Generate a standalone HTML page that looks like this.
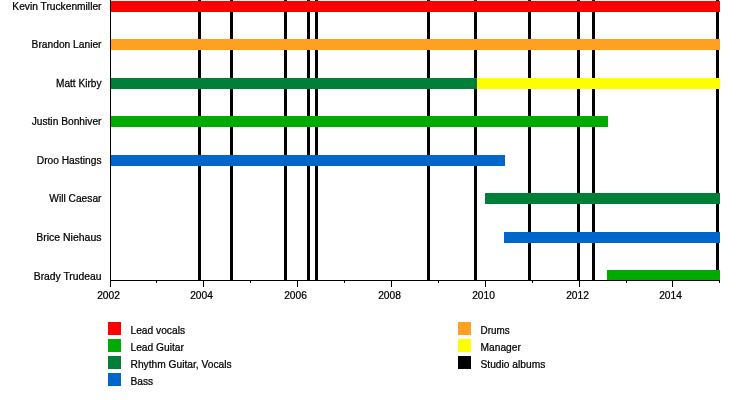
<!DOCTYPE html><html><head><meta charset="utf-8"><style>html,body{margin:0;padding:0;background:#fff;width:750px;height:400px;overflow:hidden}svg{display:block;will-change:transform}text{font-family:"Liberation Sans",sans-serif;fill:#000;stroke:#000;stroke-width:0.25px}</style></head><body>
<svg width="750" height="400" viewBox="0 0 750 400" shape-rendering="crispEdges">
<rect x="0" y="0" width="750" height="400" fill="#fff"/>
<rect x="198" y="0" width="3" height="280" fill="#000"/>
<rect x="230" y="0" width="3" height="280" fill="#000"/>
<rect x="284" y="0" width="3" height="280" fill="#000"/>
<rect x="307" y="0" width="3" height="280" fill="#000"/>
<rect x="315" y="0" width="3" height="280" fill="#000"/>
<rect x="427" y="0" width="3" height="280" fill="#000"/>
<rect x="474" y="0" width="3" height="280" fill="#000"/>
<rect x="528" y="0" width="3" height="280" fill="#000"/>
<rect x="577" y="0" width="3" height="280" fill="#000"/>
<rect x="592" y="0" width="3" height="280" fill="#000"/>
<rect x="716" y="0" width="3" height="280" fill="#000"/>
<rect x="111" y="1" width="609" height="11" fill="#ff0000"/>
<rect x="111" y="39" width="609" height="11" fill="#ffa020"/>
<rect x="111" y="78" width="366" height="11" fill="#007f38"/>
<rect x="477" y="78" width="243" height="11" fill="#ffff00"/>
<rect x="111" y="116" width="497" height="11" fill="#00ab00"/>
<rect x="111" y="155" width="394" height="11" fill="#0066cc"/>
<rect x="485" y="193" width="235" height="11" fill="#007f38"/>
<rect x="504" y="232" width="216" height="11" fill="#0066cc"/>
<rect x="607" y="270" width="113" height="10" fill="#00ab00"/>
<rect x="110" y="0" width="1" height="281" fill="#000"/>
<rect x="110" y="280" width="610" height="1" fill="#000"/>
<rect x="110" y="281" width="1" height="6" fill="#000"/>
<rect x="156" y="281" width="1" height="2" fill="#000"/>
<rect x="203" y="281" width="1" height="6" fill="#000"/>
<rect x="250" y="281" width="1" height="2" fill="#000"/>
<rect x="297" y="281" width="1" height="6" fill="#000"/>
<rect x="344" y="281" width="1" height="2" fill="#000"/>
<rect x="391" y="281" width="1" height="6" fill="#000"/>
<rect x="438" y="281" width="1" height="2" fill="#000"/>
<rect x="485" y="281" width="1" height="6" fill="#000"/>
<rect x="532" y="281" width="1" height="2" fill="#000"/>
<rect x="579" y="281" width="1" height="6" fill="#000"/>
<rect x="626" y="281" width="1" height="2" fill="#000"/>
<rect x="672" y="281" width="1" height="6" fill="#000"/>
<rect x="719" y="281" width="1" height="2" fill="#000"/>
<text transform="translate(101.5,9.5) scale(0.93,1)" text-anchor="end" font-size="11">Kevin Truckenmiller</text>
<text transform="translate(101.5,47.5) scale(0.93,1)" text-anchor="end" font-size="11">Brandon Lanier</text>
<text transform="translate(101.5,86.5) scale(0.92,1)" text-anchor="end" font-size="11">Matt Kirby</text>
<text transform="translate(101.5,124.5) scale(0.93,1)" text-anchor="end" font-size="11">Justin Bonhiver</text>
<text transform="translate(101.5,163.5) scale(0.93,1)" text-anchor="end" font-size="11">Droo Hastings</text>
<text transform="translate(101.5,201.5) scale(0.93,1)" text-anchor="end" font-size="11">Will Caesar</text>
<text transform="translate(101.5,240.5) scale(0.955,1)" text-anchor="end" font-size="11">Brice Niehaus</text>
<text transform="translate(101.5,279.5) scale(0.94,1)" text-anchor="end" font-size="11">Brady Trudeau</text>
<text transform="translate(108.5,298.5) scale(0.93,1)" text-anchor="middle" font-size="11">2002</text>
<text transform="translate(201.5,298.5) scale(0.93,1)" text-anchor="middle" font-size="11">2004</text>
<text transform="translate(295.5,298.5) scale(0.93,1)" text-anchor="middle" font-size="11">2006</text>
<text transform="translate(389.5,298.5) scale(0.93,1)" text-anchor="middle" font-size="11">2008</text>
<text transform="translate(483.5,298.5) scale(0.93,1)" text-anchor="middle" font-size="11">2010</text>
<text transform="translate(577.5,298.5) scale(0.93,1)" text-anchor="middle" font-size="11">2012</text>
<text transform="translate(670.5,298.5) scale(0.93,1)" text-anchor="middle" font-size="11">2014</text>
<rect x="108" y="322" width="13" height="13" fill="#ff0000"/>
<text transform="translate(130.5,333.5) scale(0.93,1)" font-size="11">Lead vocals</text>
<rect x="108" y="339" width="13" height="13" fill="#00ab00"/>
<text transform="translate(130.5,350.5) scale(0.93,1)" font-size="11">Lead Guitar</text>
<rect x="108" y="356" width="13" height="13" fill="#007f38"/>
<text transform="translate(130.5,367.5) scale(0.93,1)" font-size="11">Rhythm Guitar, Vocals</text>
<rect x="108" y="373" width="13" height="13" fill="#0066cc"/>
<text transform="translate(130.5,384.5) scale(0.93,1)" font-size="11">Bass</text>
<rect x="458" y="322" width="13" height="13" fill="#ffa020"/>
<text transform="translate(480.5,333.5) scale(0.9,1)" font-size="11">Drums</text>
<rect x="458" y="339" width="13" height="13" fill="#ffff00"/>
<text transform="translate(480.5,350.5) scale(0.93,1)" font-size="11">Manager</text>
<rect x="458" y="356" width="13" height="13" fill="#000000"/>
<text transform="translate(480.5,367.5) scale(0.93,1)" font-size="11">Studio albums</text>
</svg></body></html>
